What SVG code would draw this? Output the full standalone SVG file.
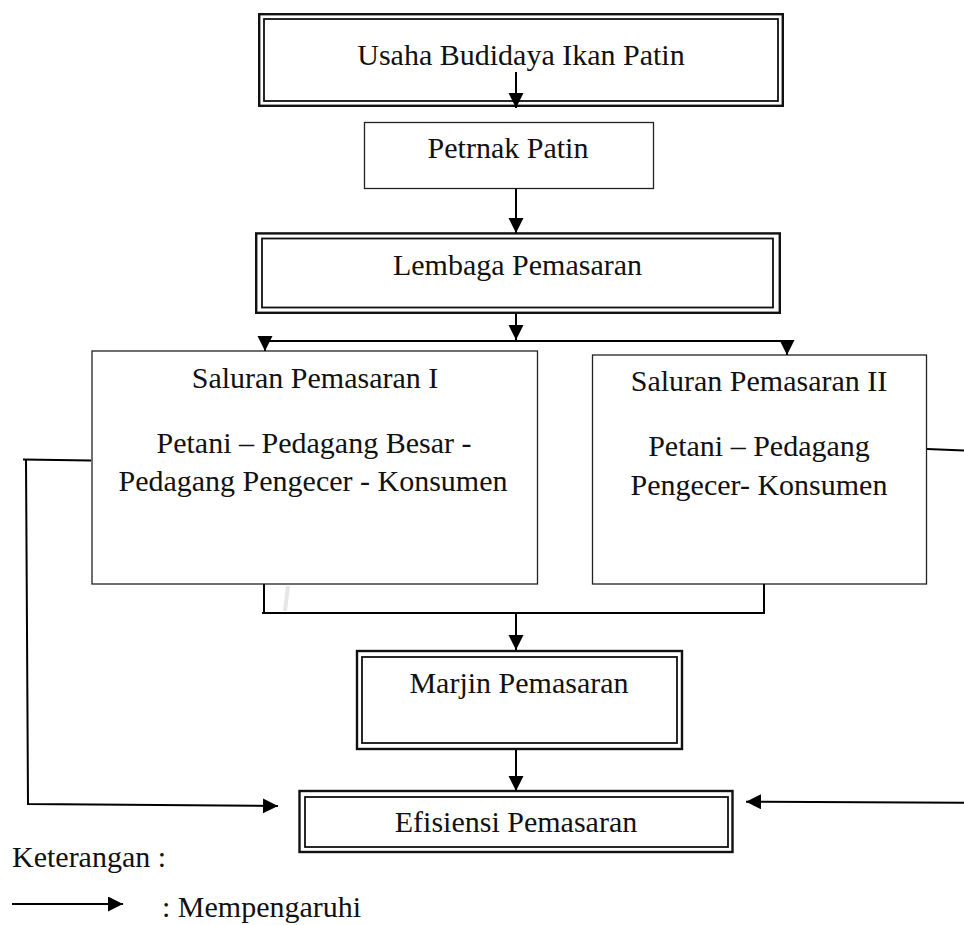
<svg xmlns="http://www.w3.org/2000/svg" width="964" height="925" viewBox="0 0 964 925">
<defs>
<style>
text{font-family:"Liberation Serif","Times New Roman",serif;font-size:30px;fill:#111;}
.c{text-anchor:middle;}
.o{fill:none;stroke:#111;stroke-width:2.4;}
.i{fill:none;stroke:#111;stroke-width:1.8;}
.s{fill:#fff;stroke:#222;stroke-width:1.3;}
.ln{fill:none;stroke:#000;stroke-width:2;}
</style>
<marker id="ah" markerUnits="userSpaceOnUse" markerWidth="17" markerHeight="17" refX="15" refY="7.5" orient="auto">
<path d="M0,0 L15,7.5 L0,15 z" fill="#000"/>
</marker>
</defs>
<rect width="964" height="925" fill="#fff"/>

<g id="usaha">
<rect class="o" x="259.2" y="14.2" width="523.6" height="91.6"/>
<rect class="i" x="264" y="19" width="514" height="82"/>
<text class="c" x="521" y="65">Usaha Budidaya Ikan Patin</text>
</g>

<g id="petrnak">
<rect class="s" x="364.5" y="122.5" width="289" height="66"/>
<text class="c" x="508" y="157.5">Petrnak Patin</text>
</g>

<g id="lembaga">
<rect class="o" x="256.2" y="233.4" width="523.6" height="79.4"/>
<rect class="i" x="262" y="238.5" width="511" height="69"/>
<text class="c" x="517.5" y="275">Lembaga Pemasaran</text>
</g>

<g id="saluran1">
<rect class="s" x="92" y="351" width="445.5" height="233"/>
<text class="c" x="315" y="388">Saluran Pemasaran I</text>
<text class="c" x="314" y="452.5">Petani – Pedagang Besar -</text>
<text class="c" x="313" y="490.5">Pedagang Pengecer - Konsumen</text>
</g>

<g id="saluran2">
<rect class="s" x="592.5" y="355" width="334" height="229"/>
<text class="c" x="759" y="391">Saluran Pemasaran II</text>
<text class="c" x="759" y="456">Petani – Pedagang</text>
<text class="c" x="759" y="495">Pengecer- Konsumen</text>
</g>

<g id="marjin">
<rect class="o" x="357" y="651" width="325" height="98"/>
<rect class="i" x="362" y="657" width="315" height="86"/>
<text class="c" x="519" y="693">Marjin Pemasaran</text>
</g>

<g id="efisiensi">
<rect class="o" x="299.5" y="791" width="433" height="61"/>
<rect class="i" x="305" y="797" width="423" height="50"/>
<text class="c" x="516" y="832">Efisiensi Pemasaran</text>
</g>

<line x1="288" y1="586" x2="285" y2="611" stroke="#e6e6e6" stroke-width="4"/>

<g id="connectors">
<path class="ln" d="M516,72 L516,108" marker-end="url(#ah)"/>
<path class="ln" d="M516,189 L516,233" marker-end="url(#ah)"/>
<path class="ln" d="M516,314 L516,340" marker-end="url(#ah)"/>
<path class="ln" d="M263,341 L788,341"/>
<path class="ln" d="M265,341 L265,351" marker-end="url(#ah)"/>
<path class="ln" d="M787,341 L787,355" marker-end="url(#ah)"/>
<path class="ln" d="M264,584 L264,613 M262,613 L764,613 L764,584"/>
<path class="ln" d="M516,613 L516,650" marker-end="url(#ah)"/>
<path class="ln" d="M516,750 L516,791" marker-end="url(#ah)"/>
<path class="ln" d="M91,460.5 L23,459.5"/>
<path class="ln" d="M26,459.5 L28,804 L278,806" marker-end="url(#ah)"/>
<path class="ln" d="M927,449 L964,450.5"/>
<path class="ln" d="M964,802.7 L746,801.7" marker-end="url(#ah)"/>
</g>

<g id="legend">
<text x="12" y="866.5">Keterangan :</text>
<path class="ln" d="M12,904 L123,904" marker-end="url(#ah)"/>
<text x="162" y="916.5">: Mempengaruhi</text>
</g>
</svg>
